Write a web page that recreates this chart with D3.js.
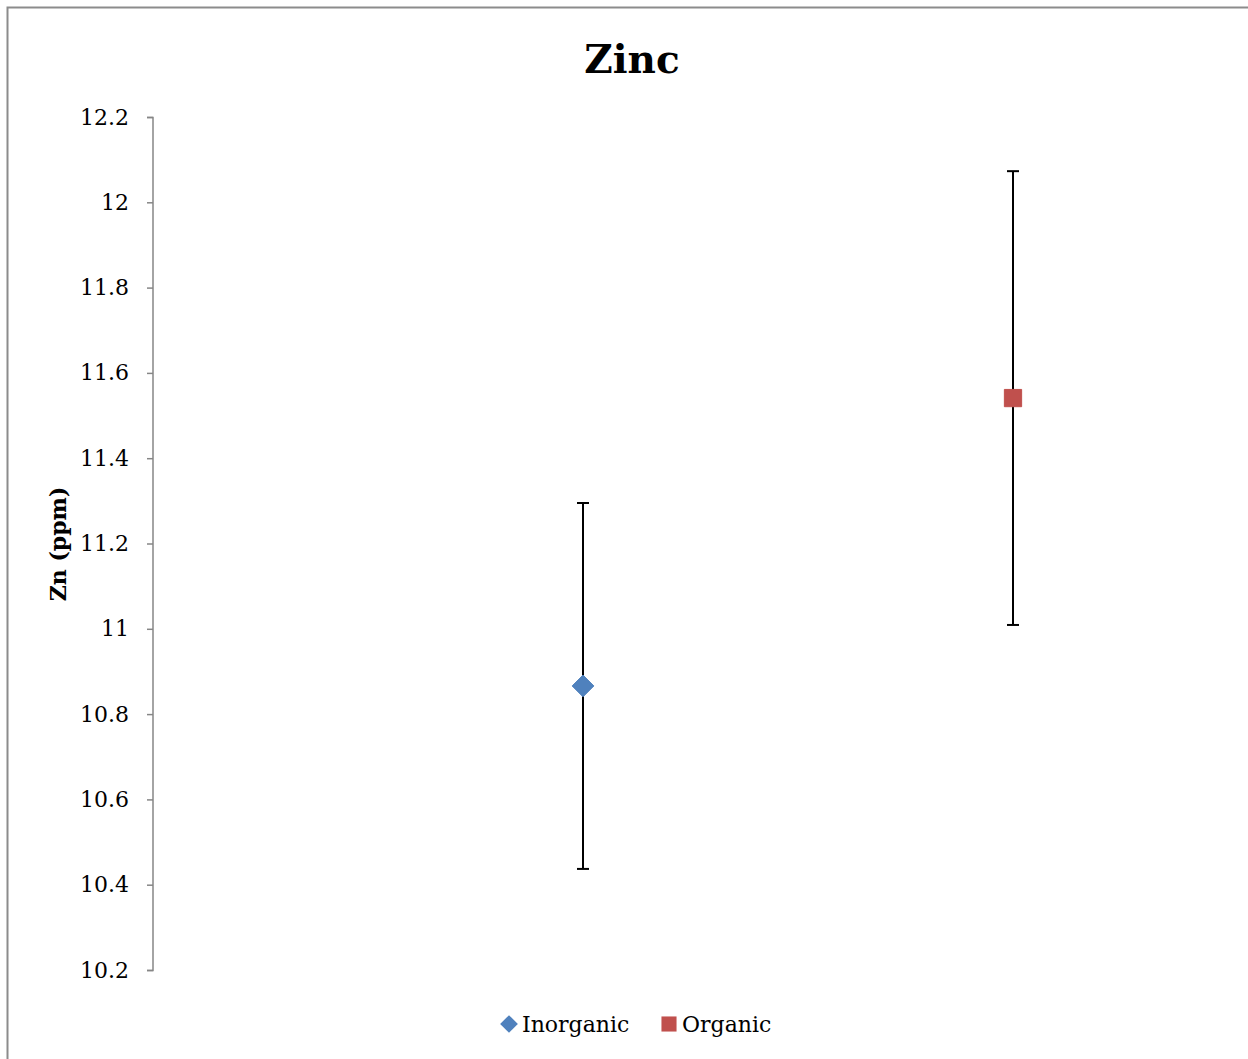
<!DOCTYPE html>
<html><head><meta charset="utf-8">
<script src="https://cdn.jsdelivr.net/npm/d3@7"></script>
<style>body{margin:0;background:#fff}</style>
</head><body><svg id="c" width="1248" height="1059"></svg>
<script>
const categories = ["Inorganic", "Organic"];
const xPositions = [1, 2];
const means = [10.866, 11.541];
const errLow = [10.437, 11.009];
const errHigh = [11.295, 12.073];
const yTicks = [10.2, 10.4, 10.6, 10.8, 11, 11.2, 11.4, 11.6, 11.8, 12, 12.2];
const colors = ["#4F81BD", "#C0504D"];

const svg = d3.select("#c");
const font = "'DejaVu Serif', serif";
svg.append("rect").attr("x",7.5).attr("y",7.5).attr("width",1260).attr("height",1070)
  .attr("fill","none").attr("stroke","#8c8c8c").attr("stroke-width",2);

const y = d3.scaleLinear().domain([10.2, 12.2]).range([970, 117]);
const x = d3.scaleLinear().domain([0, 2.5]).range([153, 1228]);

const ax = svg.append("g").attr("transform","translate(153,0)")
  .call(d3.axisLeft(y).tickValues(yTicks).tickSize(6).tickPadding(18).tickFormat(d => d3.format("")(+d.toFixed(1))));
ax.select(".domain").attr("stroke","#868686").attr("stroke-width",1.5).attr("d","M-6,117.5H0V970.5H-6");
ax.selectAll(".tick line").attr("stroke","#868686").attr("stroke-width",1.5);
ax.selectAll(".tick text").attr("font-family",font).attr("font-size",22).attr("fill","#000");

svg.append("text").attr("x",632).attr("y",73).attr("text-anchor","middle")
  .attr("font-family",font).attr("font-weight","bold").attr("font-size",39).text("Zinc");

svg.append("text").attr("transform","translate(66,544) rotate(-90)").attr("text-anchor","middle")
  .attr("font-family",font).attr("font-weight","bold").attr("font-size",22).text("Zn (ppm)");

const g = svg.append("g");
categories.forEach((c,i) => {
  const cx = x(xPositions[i]);
  g.append("line").attr("x1",cx).attr("x2",cx).attr("y1",y(errLow[i])).attr("y2",y(errHigh[i]))
    .attr("stroke","#000").attr("stroke-width",2);
  [errLow[i], errHigh[i]].forEach(v => g.append("line").attr("x1",cx-6).attr("x2",cx+6)
    .attr("y1",y(v)).attr("y2",y(v)).attr("stroke","#000").attr("stroke-width",2));
  const sym = i === 0 ? d3.symbol(d3.symbolDiamond2, 300) : d3.symbol(d3.symbolSquare2, 380);
  g.append("path").attr("d", sym()).attr("transform",`translate(${cx},${y(means[i])})`)
    .attr("fill",colors[i]).attr("stroke",colors[i]).attr("stroke-width",1);
});

// legend
const leg = [{sym:d3.symbolDiamond2,size:200,x:509,tx:522},{sym:d3.symbolSquare2,size:290,x:669,tx:682}];
categories.forEach((c,i) => {
  svg.append("path").attr("d", d3.symbol(leg[i].sym, leg[i].size)()).attr("transform",`translate(${leg[i].x},1024)`)
    .attr("fill",colors[i]);
  svg.append("text").attr("x",leg[i].tx).attr("y",1032).attr("font-family",font).attr("font-size",22).text(c);
});
</script></body></html>
